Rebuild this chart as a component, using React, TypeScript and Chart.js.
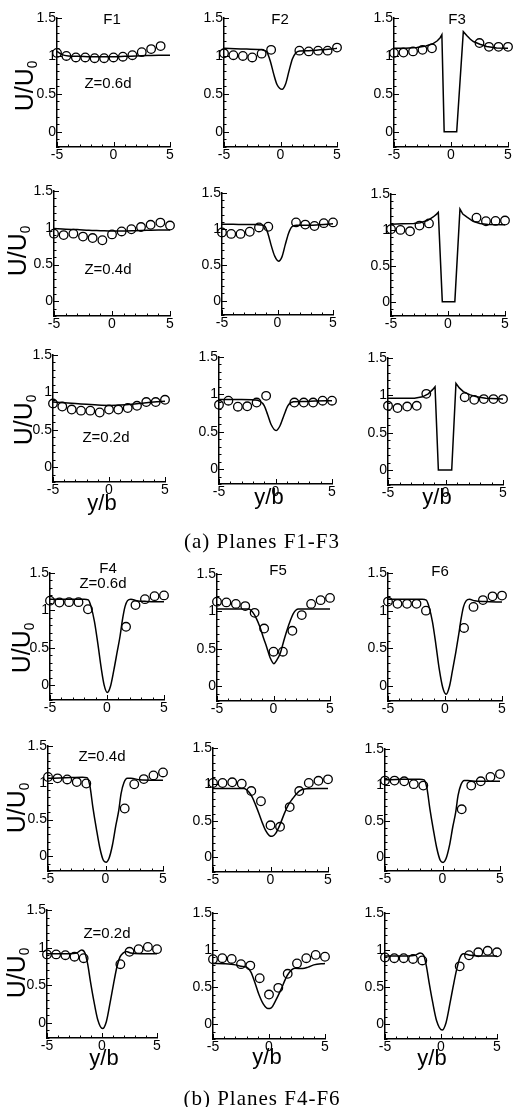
import React, { useEffect, useRef } from "react";
import { Chart, registerables } from "chart.js";

Chart.register(...registerables);

type Pt = [number, number];

// ---------- DATA ----------
const EXP_X = [-5, -4.17, -3.33, -2.5, -1.67, -0.83, 0, 0.83, 1.67, 2.5, 3.33, 4.17, 5];
const X_TICKS = [-5, 0, 5];
const Y_TICKS = [0, 0.5, 1, 1.5];
const PANEL_TITLES = ["F1", "F2", "F3", "F4", "F5", "F6"];
const Z_LABELS = ["Z=0.6d", "Z=0.4d", "Z=0.2d"];
const CAPTIONS = ["(a) Planes F1-F3", "(b) Planes F4-F6"];
const Y_TITLE = "U/U";
const Y_TITLE_SUB = "0";
const X_TITLE = "y/b";

// experiments (circles), on EXP_X
const F1_Z06_EXP = [1.04, 1.0, 0.98, 0.98, 0.97, 0.97, 0.98, 0.99, 1.01, 1.05, 1.09, 1.13, null];
const F2_Z06_EXP = [1.035, 1.01, 1.0, 0.98, 1.03, 1.08, null, null, 1.07, 1.06, 1.07, 1.07, 1.11];
const F3_Z06_EXP = [1.04, 1.045, 1.06, 1.08, 1.1, null, null, null, null, 1.17, 1.12, 1.12, 1.12];
const F1_Z04_EXP = [0.92, 0.9, 0.92, 0.88, 0.86, 0.83, 0.91, 0.95, 0.98, 1.01, 1.04, 1.07, 1.03];
const F2_Z04_EXP = [0.95, 0.93, 0.93, 0.96, 1.02, 1.03, null, null, 1.09, 1.06, 1.04, 1.08, 1.09];
const F3_Z04_EXP = [1.01, 1.0, 0.98, 1.06, 1.09, null, null, null, null, 1.17, 1.12, 1.125, 1.13];
const F1_Z02_EXP = [0.85, 0.81, 0.77, 0.755, 0.755, 0.73, 0.77, 0.77, 0.79, 0.82, 0.87, 0.87, 0.9];
const F2_Z02_EXP = [0.86, 0.915, 0.835, 0.84, 0.89, 0.98, null, null, 0.89, 0.89, 0.89, 0.915, 0.915];
const F3_Z02_EXP = [0.86, 0.83, 0.85, 0.86, 1.02, null, null, null, 0.975, 0.94, 0.95, 0.95, 0.95];
const F4_Z06_EXP = [1.13, 1.105, 1.11, 1.11, 1.015, null, null, null, 0.78, 1.07, 1.15, 1.19, 1.2];
const F5_Z06_EXP = [1.13, 1.12, 1.1, 1.07, 0.98, 0.77, 0.46, 0.46, 0.74, 0.95, 1.1, 1.15, 1.18];
const F6_Z06_EXP = [1.12, 1.09, 1.09, 1.09, 1.0, null, null, null, 0.77, 1.05, 1.14, 1.19, 1.2];
const F4_Z04_EXP = [1.08, 1.06, 1.045, 1.01, 0.99, null, null, null, 0.65, 0.98, 1.05, 1.1, 1.14];
const F5_Z04_EXP = [1.02, 1.02, 1.03, 1.01, 0.91, 0.77, 0.44, 0.42, 0.69, 0.91, 1.02, 1.05, 1.07];
const F6_Z04_EXP = [1.06, 1.06, 1.05, 1.01, 0.99, null, null, null, 0.66, 0.99, 1.05, 1.11, 1.15];
const F4_Z02_EXP = [0.91, 0.91, 0.9, 0.88, 0.86, null, null, null, 0.78, 0.945, 0.98, 1.01, 0.98];
const F5_Z02_EXP = [0.877, 0.89, 0.88, 0.81, 0.79, 0.62, 0.4, 0.49, 0.68, 0.82, 0.89, 0.935, 0.91];
const F6_Z02_EXP = [0.9, 0.89, 0.89, 0.88, 0.86, null, null, null, 0.78, 0.93, 0.97, 0.99, 0.97];

// computations (lines)
const F1_Z06_CFD: Pt[] = [[-5, 1.06], [-4.6, 1.02], [-4, 1.0], [-3, 0.995], [-2, 0.99], [-1, 0.99], [0, 0.99], [1, 0.995], [2, 1.0], [3, 1.005], [4, 1.01], [5, 1.01]];
const F2_Z06_CFD: Pt[] = [[-5, 1.1], [-4, 1.095], [-3, 1.09], [-2, 1.085], [-1.5, 1.075], [-1.2, 1.05], [-0.9, 0.93], [-0.6, 0.76], [-0.3, 0.62], [0.15, 0.56], [0.45, 0.63], [0.75, 0.8], [1.05, 0.96], [1.35, 1.04], [1.7, 1.065], [2.5, 1.07], [3.5, 1.08], [4.5, 1.09], [5, 1.1]];
const F3_Z06_CFD: Pt[] = [[-5, 1.1], [-4, 1.1], [-3, 1.11], [-2.2, 1.13], [-1.6, 1.16], [-1.2, 1.2], [-0.95, 1.24], [-0.8, 1.28], [-0.6, 0], [0.5, 0], [1.08, 1.32], [1.38, 1.27], [1.7, 1.22], [1.96, 1.19], [2.54, 1.155], [3.13, 1.125], [4, 1.105], [5, 1.1]];
const F1_Z04_CFD: Pt[] = [[-5, 0.99], [-4, 0.98], [-3, 0.975], [-2, 0.965], [-1, 0.96], [0, 0.955], [1, 0.955], [2, 0.96], [3, 0.965], [4, 0.97], [5, 0.97]];
const F2_Z04_CFD: Pt[] = [[-5, 1.065], [-4, 1.065], [-3, 1.06], [-2, 1.06], [-1.5, 1.055], [-1.15, 1.04], [-0.85, 0.93], [-0.55, 0.76], [-0.25, 0.62], [0.1, 0.55], [0.4, 0.61], [0.7, 0.78], [1.0, 0.94], [1.3, 1.03], [1.7, 1.05], [2.5, 1.05], [3.5, 1.055], [4.5, 1.065], [5, 1.07]];
const F3_Z04_CFD: Pt[] = [[-5, 1.08], [-4, 1.085], [-3, 1.09], [-2.45, 1.1], [-1.8, 1.13], [-1.3, 1.18], [-1.0, 1.22], [-0.85, 1.245], [-0.5, 0], [0.6, 0], [1.05, 1.29], [1.3, 1.22], [1.64, 1.18], [2.2, 1.12], [2.8, 1.09], [3.5, 1.075], [5, 1.07]];
const F1_Z02_CFD: Pt[] = [[-5, 0.87], [-4, 0.86], [-3, 0.85], [-2, 0.84], [-1, 0.83], [0, 0.825], [1, 0.83], [2, 0.84], [3, 0.855], [4, 0.87], [5, 0.88]];
const F2_Z02_CFD: Pt[] = [[-5, 0.93], [-4, 0.93], [-3, 0.93], [-1.9, 0.925], [-1.4, 0.91], [-1.0, 0.85], [-0.7, 0.73], [-0.4, 0.6], [0.05, 0.515], [0.4, 0.58], [0.75, 0.72], [1.1, 0.85], [1.58, 0.9], [2.5, 0.905], [3.5, 0.91], [5, 0.915]];
const F3_Z02_CFD: Pt[] = [[-5, 0.96], [-4, 0.96], [-2.7, 0.96], [-2, 0.98], [-1.5, 1.02], [-1.1, 1.08], [-0.91, 1.115], [-0.62, 0], [0.54, 0], [0.91, 1.16], [1.2, 1.1], [1.55, 1.05], [2.1, 1.01], [2.71, 0.98], [3.5, 0.96], [5, 0.95]];
const F4_Z06_CFD: Pt[] = [[-5, 1.15], [-4, 1.15], [-3, 1.15], [-2, 1.15], [-1.64, 1.14], [-1.4, 1.05], [-1.1, 0.85], [-0.8, 0.55], [-0.5, 0.22], [-0.25, 0.0], [0.03, -0.1], [0.3, -0.02], [0.6, 0.2], [0.9, 0.45], [1.14, 0.65], [1.35, 0.87], [1.58, 1.05], [1.8, 1.13], [2.1, 1.15], [2.6, 1.13], [3.5, 1.12], [5, 1.115]];
const F5_Z06_CFD: Pt[] = [[-5, 1.03], [-4, 1.03], [-3, 1.03], [-2.2, 1.03], [-1.8, 0.98], [-1.5, 0.9], [-1.2, 0.79], [-0.9, 0.65], [-0.6, 0.52], [-0.3, 0.38], [0.03, 0.3], [0.3, 0.35], [0.6, 0.44], [0.9, 0.6], [1.2, 0.75], [1.5, 0.88], [1.75, 0.97], [2.2, 1.03], [3, 1.03], [4, 1.03], [5, 1.03]];
const F6_Z06_CFD: Pt[] = [[-5, 1.15], [-4, 1.15], [-3, 1.15], [-2, 1.15], [-1.64, 1.14], [-1.4, 1.05], [-1.1, 0.85], [-0.8, 0.55], [-0.5, 0.22], [-0.2, -0.02], [0.1, -0.11], [0.4, 0.0], [0.65, 0.2], [0.95, 0.45], [1.2, 0.68], [1.4, 0.88], [1.62, 1.05], [1.85, 1.13], [2.15, 1.15], [2.6, 1.13], [3.5, 1.12], [5, 1.115]];
const F4_Z04_CFD: Pt[] = [[-5, 1.06], [-4, 1.065], [-3, 1.07], [-2, 1.075], [-1.6, 1.07], [-1.35, 0.95], [-1.1, 0.67], [-0.8, 0.38], [-0.5, 0.12], [-0.2, -0.05], [0.05, -0.08], [0.3, -0.03], [0.6, 0.15], [0.9, 0.42], [1.15, 0.62], [1.35, 0.85], [1.6, 1.0], [1.9, 1.06], [2.2, 1.06], [3, 1.04], [4, 1.035], [5, 1.035]];
const F5_Z04_CFD: Pt[] = [[-5, 0.945], [-4, 0.945], [-3, 0.945], [-2.3, 0.945], [-1.9, 0.9], [-1.6, 0.83], [-1.3, 0.72], [-1.0, 0.6], [-0.7, 0.47], [-0.43, 0.37], [-0.1, 0.3], [0.15, 0.29], [0.45, 0.33], [0.8, 0.44], [1.2, 0.6], [1.55, 0.72], [1.9, 0.8], [2.5, 0.91], [3.1, 0.94], [4, 0.945], [5, 0.945]];
const F6_Z04_CFD: Pt[] = [[-5, 1.07], [-4, 1.075], [-3, 1.08], [-2, 1.08], [-1.6, 1.07], [-1.35, 0.95], [-1.1, 0.67], [-0.8, 0.38], [-0.5, 0.12], [-0.2, -0.05], [0.05, -0.08], [0.3, -0.03], [0.6, 0.15], [0.9, 0.42], [1.15, 0.62], [1.35, 0.85], [1.6, 1.0], [1.9, 1.06], [2.2, 1.06], [3, 1.05], [4, 1.05], [5, 1.05]];
const F4_Z02_CFD: Pt[] = [[-5, 0.92], [-4, 0.92], [-3, 0.92], [-2.3, 0.93], [-1.85, 0.97], [-1.55, 0.93], [-1.3, 0.78], [-1.05, 0.55], [-0.75, 0.3], [-0.4, 0.05], [0.05, -0.075], [0.4, 0.02], [0.75, 0.28], [1.05, 0.52], [1.35, 0.74], [1.65, 0.88], [1.94, 0.93], [2.2, 0.95], [2.6, 0.93], [3.5, 0.92], [5, 0.92]];
const F5_Z02_CFD: Pt[] = [[-5, 0.82], [-4, 0.815], [-3, 0.8], [-2.5, 0.78], [-2, 0.77], [-1.6, 0.7], [-1.3, 0.58], [-0.9, 0.4], [-0.5, 0.27], [-0.1, 0.21], [0.2, 0.22], [0.6, 0.32], [1.05, 0.46], [1.64, 0.66], [2.3, 0.755], [3, 0.75], [3.5, 0.77], [4, 0.8], [5, 0.82]];
const F6_Z02_CFD: Pt[] = [[-5, 0.92], [-4, 0.92], [-3, 0.92], [-2.3, 0.93], [-1.85, 0.96], [-1.55, 0.93], [-1.3, 0.78], [-1.05, 0.55], [-0.75, 0.3], [-0.4, 0.05], [0.1, -0.08], [0.45, 0.02], [0.8, 0.28], [1.1, 0.52], [1.4, 0.74], [1.7, 0.9], [2.0, 0.95], [2.6, 0.93], [3.5, 0.92], [5, 0.92]];

// ---------- LAYOUT (page pixels: x of -5 / +5, y of 1.5 / 0) ----------
const YW = 40; // y-axis box width
const XH = 22; // x-axis box height
const PT = 10; // top padding
const PR = 10; // right padding
const FONT = "'Liberation Sans', Arial, Helvetica, sans-serif";

type Layout = { l: number; r: number; t: number; z: number };
type PanelDef = { lay: Layout; exp: (number | null)[]; cfd: Pt[]; straight?: boolean };

const PANELS: PanelDef[] = [
  { lay: { l: 57, r: 170, t: 18, z: 132 }, exp: F1_Z06_EXP, cfd: F1_Z06_CFD },
  { lay: { l: 224, r: 337, t: 18, z: 132 }, exp: F2_Z06_EXP, cfd: F2_Z06_CFD },
  { lay: { l: 394, r: 508, t: 18, z: 132 }, exp: F3_Z06_EXP, cfd: F3_Z06_CFD, straight: true },
  { lay: { l: 54, r: 170, t: 191, z: 301 }, exp: F1_Z04_EXP, cfd: F1_Z04_CFD },
  { lay: { l: 222, r: 333, t: 193, z: 301 }, exp: F2_Z04_EXP, cfd: F2_Z04_CFD },
  { lay: { l: 391, r: 505, t: 194, z: 302 }, exp: F3_Z04_EXP, cfd: F3_Z04_CFD, straight: true },
  { lay: { l: 53, r: 165, t: 355, z: 467 }, exp: F1_Z02_EXP, cfd: F1_Z02_CFD },
  { lay: { l: 219, r: 332, t: 357, z: 469 }, exp: F2_Z02_EXP, cfd: F2_Z02_CFD },
  { lay: { l: 388, r: 503, t: 358, z: 470 }, exp: F3_Z02_EXP, cfd: F3_Z02_CFD, straight: true },
  { lay: { l: 50, r: 164, t: 573, z: 685 }, exp: F4_Z06_EXP, cfd: F4_Z06_CFD },
  { lay: { l: 217, r: 330, t: 574, z: 686 }, exp: F5_Z06_EXP, cfd: F5_Z06_CFD },
  { lay: { l: 388, r: 502, t: 573, z: 686 }, exp: F6_Z06_EXP, cfd: F6_Z06_CFD },
  { lay: { l: 48, r: 163, t: 746, z: 856 }, exp: F4_Z04_EXP, cfd: F4_Z04_CFD },
  { lay: { l: 213, r: 328, t: 748, z: 857 }, exp: F5_Z04_EXP, cfd: F5_Z04_CFD },
  { lay: { l: 385, r: 500, t: 749, z: 857 }, exp: F6_Z04_EXP, cfd: F6_Z04_CFD },
  { lay: { l: 47, r: 157, t: 910, z: 1023 }, exp: F4_Z02_EXP, cfd: F4_Z02_CFD },
  { lay: { l: 213, r: 325, t: 913, z: 1024 }, exp: F5_Z02_EXP, cfd: F5_Z02_CFD },
  { lay: { l: 385, r: 497, t: 913, z: 1024 }, exp: F6_Z02_EXP, cfd: F6_Z02_CFD },
];

const TITLE_POS: [number, number][] = [[112, 18], [280, 18], [457, 18], [108, 567], [278, 569], [440, 570]];
const Z_POS: [number, number, number][] = [[108, 82, 0], [108, 268, 1], [106, 436, 2], [103, 582, 0], [102, 755, 1], [107, 932, 2]];
const YT_POS: [number, number][] = [[24, 86], [17, 251], [23, 420], [21, 648], [16, 808], [16, 973]];
const XT_POS: [number, number][] = [[102, 503], [269, 497], [437, 497], [104, 1058], [267, 1057], [432, 1058]];
const CAP_POS: [number, number][] = [[262, 541], [262, 1098]];

const inwardTicks = {
  id: "inwardTicks",
  afterDraw(chart: any) {
    const { ctx, chartArea, scales } = chart;
    const x = scales.x;
    const y = scales.y;
    ctx.save();
    ctx.strokeStyle = "#000";
    ctx.lineWidth = 1;
    ctx.beginPath();
    for (let i = -2; i <= 15; i++) {
      const py = Math.round(y.getPixelForValue(i / 10)) + 0.5;
      const len = i % 5 === 0 ? 5 : 2.5;
      ctx.moveTo(chartArea.left, py);
      ctx.lineTo(chartArea.left + len, py);
    }
    for (let i = -5; i <= 5; i++) {
      const px = Math.round(x.getPixelForValue(i)) + 0.5;
      const len = i % 5 === 0 ? 5 : 2.5;
      ctx.moveTo(px, chartArea.bottom);
      ctx.lineTo(px, chartArea.bottom - len);
    }
    ctx.stroke();
    ctx.restore();
  },
};

function Panel({ def }: { def: PanelDef }) {
  const ref = useRef<HTMLCanvasElement>(null);
  const { l, r, t, z } = def.lay;
  const bottom = z + ((z - t) * 0.2) / 1.5;
  const w = Math.round(r - l + YW + PR);
  const h = Math.round(bottom - t + PT + XH);

  useEffect(() => {
    if (!ref.current) return;
    const chart = new Chart(ref.current, {
      type: "scatter",
      data: {
        datasets: [
          {
            type: "line",
            data: def.cfd.map(([x, y]) => ({ x, y })),
            borderColor: "#000",
            borderWidth: 1.5,
            pointRadius: 0,
            fill: false,
            tension: def.straight ? 0 : 0.4,
            cubicInterpolationMode: def.straight ? "default" : "monotone",
            clip: false as any,
          } as any,
          {
            type: "scatter",
            data: EXP_X.map((x, i) => ({ x, y: def.exp[i] as number })).filter((p) => p.y !== null),
            pointRadius: 4.3,
            pointBorderWidth: 1.3,
            pointBorderColor: "#000",
            pointBackgroundColor: "rgba(0,0,0,0)",
            showLine: false,
            clip: false as any,
          } as any,
        ],
      },
      options: {
        animation: false,
        responsive: false,
        events: [],
        layout: { padding: { top: PT, right: PR, left: 0, bottom: 0 } },
        plugins: { legend: { display: false }, tooltip: { enabled: false }, title: { display: false } },
        scales: {
          x: {
            type: "linear",
            position: "bottom",
            min: -5,
            max: 5,
            grid: { display: false, drawTicks: false },
            border: { display: true, color: "#000", width: 1.5 },
            ticks: {
              color: "#000",
              font: { family: FONT, size: 14 },
              padding: 0,
              maxRotation: 0,
              autoSkip: false,
              callback: (v: any) => String(v),
            },
            afterBuildTicks: (s: any) => {
              s.ticks = X_TICKS.map((value) => ({ value }));
            },
            afterFit: (s: any) => {
              s.height = XH;
            },
          },
          y: {
            type: "linear",
            position: "left",
            min: -0.2,
            max: 1.5,
            grid: { display: false, drawTicks: false },
            border: { display: true, color: "#000", width: 1.5 },
            ticks: {
              color: "#000",
              font: { family: FONT, size: 14 },
              padding: 1,
              autoSkip: false,
              callback: (v: any) => String(v),
            },
            afterBuildTicks: (s: any) => {
              s.ticks = Y_TICKS.map((value) => ({ value }));
            },
            afterFit: (s: any) => {
              s.width = YW;
            },
          },
        },
      } as any,
      plugins: [inwardTicks],
    });
    return () => chart.destroy();
  }, [def]);

  return (
    <canvas
      ref={ref}
      width={w}
      height={h}
      style={{ position: "absolute", left: l - YW, top: t - PT, width: w, height: h }}
    />
  );
}

const Label = ({ x, y, children, style, rotate }: any) => (
  <div
    style={{
      position: "absolute",
      left: x,
      top: y,
      transform: `translate(-50%, -50%)${rotate ? " rotate(-90deg)" : ""}`,
      whiteSpace: "nowrap",
      lineHeight: 1,
      color: "#000",
      fontFamily: FONT,
      ...style,
    }}
  >
    {children}
  </div>
);

export default function App() {
  return (
    <div
      style={{
        position: "absolute",
        left: 0,
        top: 0,
        width: 517,
        height: 1107,
        background: "#fff",
        overflow: "hidden",
      }}
    >
      {PANELS.map((p, i) => (
        <Panel key={i} def={p} />
      ))}
      {TITLE_POS.map(([x, y], i) => (
        <Label key={"t" + i} x={x} y={y} style={{ fontSize: 15 }}>
          {PANEL_TITLES[i]}
        </Label>
      ))}
      {Z_POS.map(([x, y, k], i) => (
        <Label key={"z" + i} x={x} y={y} style={{ fontSize: 15 }}>
          {Z_LABELS[k]}
        </Label>
      ))}
      {YT_POS.map(([x, y], i) => (
        <Label key={"yt" + i} x={x} y={y} rotate style={{ fontSize: 25 }}>
          {Y_TITLE}
          <span style={{ fontSize: "0.55em", position: "relative", top: "0.3em" }}>{Y_TITLE_SUB}</span>
        </Label>
      ))}
      {XT_POS.map(([x, y], i) => (
        <Label key={"xt" + i} x={x} y={y} style={{ fontSize: 22 }}>
          {X_TITLE}
        </Label>
      ))}
      {CAP_POS.map(([x, y], i) => (
        <Label key={"c" + i} x={x} y={y} style={{ fontSize: 21, fontFamily: "'Liberation Serif', 'DejaVu Serif', serif", letterSpacing: 1 }}>
          {CAPTIONS[i]}
        </Label>
      ))}
    </div>
  );
}
